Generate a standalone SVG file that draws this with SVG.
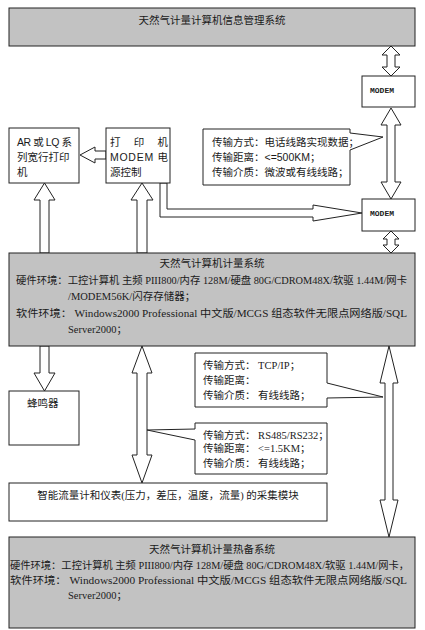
<svg xmlns="http://www.w3.org/2000/svg" width="425" height="630" viewBox="0 0 425 630">
<style>
.gray{fill:#c2c2c2;stroke:#222;stroke-width:1}
.box{fill:#fff;stroke:#222;stroke-width:1}
.arr{fill:#fff;stroke:#222;stroke-width:1}
.t{font-family:"Liberation Sans","Noto Sans CJK SC",sans-serif;font-size:10.5px;fill:#1a1a1a}
.s{font-family:"Liberation Serif","Noto Sans CJK SC",serif;font-size:10.5px;fill:#1a1a1a}
.m{font-family:"Liberation Mono",monospace;font-size:8px;font-weight:bold;fill:#222}
</style>
<rect width="425" height="630" fill="#fff"/>
<g id="connectors">
<polygon class="arr" points="391,46 400,55 395,55 395,67 400,67 391,76 382,67 387,67 387,55 382,55"/>
<polygon class="arr" points="391,108 401,125 395,125 395,182 401,182 391,199 381,182 387,182 387,125 381,125"/>
<polygon class="arr" points="391,231 399,239 395,239 395,245 399,245 391,253 383,245 387,245 387,239 383,239"/>
<polygon class="arr" points="389,346 398,383 393,383 393,500 398,500 389,537 380,500 385,500 385,383 380,383"/>
<polygon class="arr" points="142,346 152,373 147,373 147,455 152,455 142,483 132,455 137,455 137,373 132,373"/>
<polygon class="arr" points="44.5,183 55,200 49,200 49,253 40,253 40,200 34,200"/>
<polygon class="arr" points="142,183 153,200 147,200 147,253 137,253 137,200 131,200"/>
<polygon class="arr" points="40,346 49,346 49,373 55,373 44.5,391 34,373 40,373"/>
<polygon class="arr" points="80,155 95,147 95,151 106,151 106,159 95,159 95,163"/>
<polygon class="arr" points="160,183 167,183 167,209 313,209 313,205 362,213 313,221 313,217 160,217"/>
</g>
<g id="mis">
<rect class="gray" x="9" y="8" width="406" height="38"/>
<text class="t" x="212" y="24" text-anchor="middle">天然气计量计算机信息管理系统</text>
</g>
<g id="modem1">
<rect class="box" x="362" y="76" width="53" height="31"/>
<text class="m" x="370" y="93">MODEM</text>
</g>
<g id="modem2">
<rect class="box" x="362" y="199" width="53" height="32"/>
<text class="m" x="370" y="216">MODEM</text>
</g>
<g id="printer-ar">
<rect class="box" x="9" y="128" width="70" height="55"/>
<text class="t" x="17" y="146" textLength="55" lengthAdjust="spacing">AR 或 LQ 系</text>
<text class="t" x="17" y="161">列宽行打印</text>
<text class="t" x="17" y="176">机</text>
</g>
<g id="printer-modem">
<rect class="box" x="106" y="128" width="64" height="55"/>
<text class="t" x="110" y="146" textLength="58" lengthAdjust="spacing">打  印  机</text>
<text class="t" x="110" y="161" textLength="58" lengthAdjust="spacing">MODEM 电</text>
<text class="t" x="110" y="176">源控制</text>
</g>
<g id="callout-phone">
<path class="box" d="M203,129 H350 V133 L383,137 L350,150 V185 H203 Z"/>
<text class="t" x="212" y="146">传输方式：电话线路实现数据；</text>
<text class="t" x="212" y="161">传输距离：&lt;=500KM；</text>
<text class="t" x="212" y="176">传输介质：微波或有线线路；</text>
</g>
<g id="metering">
<rect class="gray" x="9" y="253" width="406" height="93"/>
<text class="s" x="212" y="267" text-anchor="middle">天然气计算机计量系统</text>
<text class="s" x="16" y="284" textLength="391" lengthAdjust="spacingAndGlyphs">硬件环境：工控计算机 主频 PIII800/内存 128M/硬盘 80G/CDROM48X/软驱 1.44M/网卡</text>
<text class="s" x="68" y="300">/MODEM56K/闪存存储器；</text>
<text class="s" x="16" y="317" textLength="391" lengthAdjust="spacingAndGlyphs">软件环境： Windows2000  Professional  中文版/MCGS  组态软件无限点网络版/SQL</text>
<text class="s" x="68" y="333">Server2000；</text>
</g>
<g id="buzzer">
<rect class="box" x="9" y="391" width="70" height="54"/>
<text class="t" x="27" y="407">蜂鸣器</text>
</g>
<g id="callout-tcp">
<path class="box" d="M195,353 H327 V383 L383,397 L327,398 V407 H195 Z"/>
<text class="s" x="203" y="369">传输方式： TCP/IP；</text>
<text class="s" x="203" y="384">传输距离：</text>
<text class="s" x="203" y="399">传输介质： 有线线路；</text>
</g>
<g id="callout-rs">
<path class="box" d="M195,423 H327 V474 H195 V440 L147,430 L195,429 Z"/>
<text class="s" x="203" y="439">传输方式： RS485/RS232；</text>
<text class="s" x="203" y="452">传输距离： &lt;=1.5KM；</text>
<text class="s" x="203" y="467">传输介质： 有线线路；</text>
</g>
<g id="acquisition">
<rect class="box" x="9" y="483" width="318" height="38"/>
<text class="s" x="168" y="499" text-anchor="middle">智能流量计和仪表(压力，差压，温度，流量) 的采集模块</text>
</g>
<g id="backup">
<rect class="gray" x="9" y="537" width="406" height="91"/>
<text class="s" x="212" y="553" text-anchor="middle">天然气计算机计量热备系统</text>
<text class="s" x="10" y="569" textLength="399" lengthAdjust="spacingAndGlyphs">硬件环境：工控计算机 主频 PIII800/内存 128M/硬盘 80G/CDROM48X/软驱 1.44M/网卡，</text>
<text class="s" x="10" y="584" textLength="397" lengthAdjust="spacingAndGlyphs">软件环境： Windows2000  Professional  中文版/MCGS  组态软件无限点网络版/SQL</text>
<text class="s" x="68" y="599">Server2000；</text>
</g>
</svg>
